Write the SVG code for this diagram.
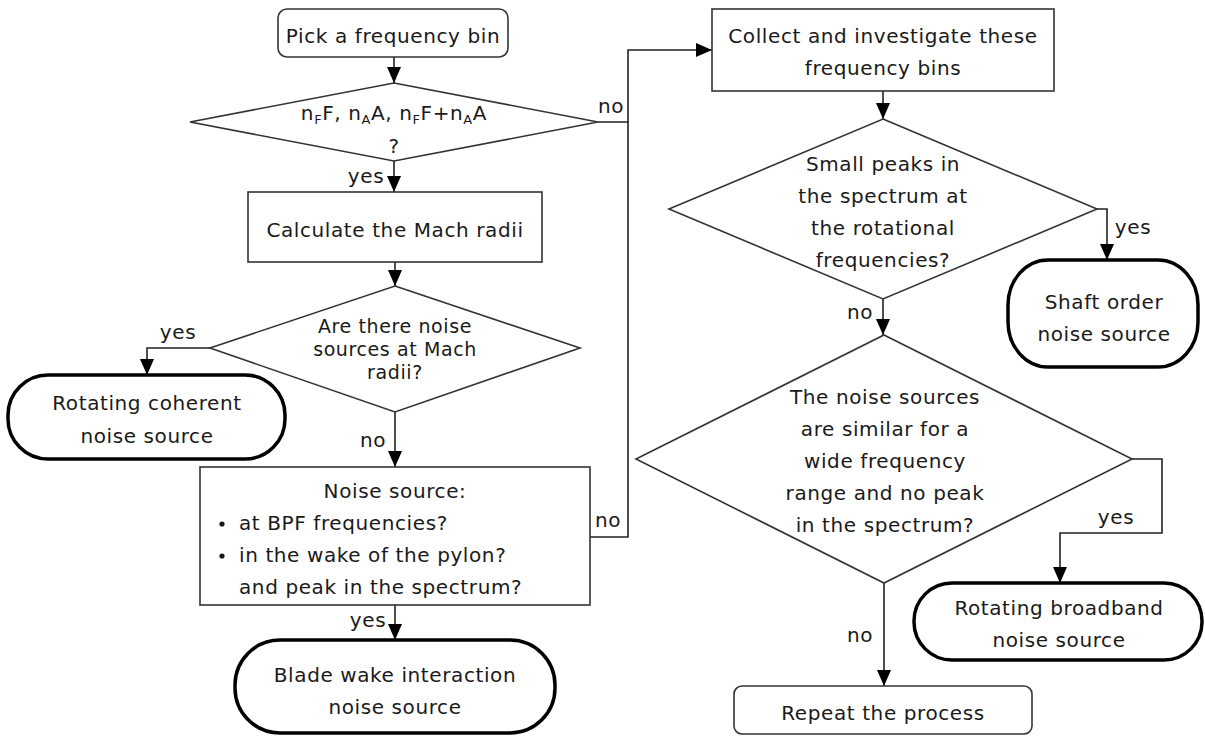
<svg xmlns="http://www.w3.org/2000/svg" width="1205" height="736" viewBox="0 0 1205 736">
<style>
text{font-family:"DejaVu Sans","Liberation Sans",sans-serif;font-size:20px;letter-spacing:0.6px;fill:#1a1a1a;text-anchor:middle}
.box{fill:#fff;stroke:#333;stroke-width:1.6}
.term{fill:#fff;stroke:#000;stroke-width:3.5}
.conn{fill:none;stroke:#222;stroke-width:1.6}
.arr{marker-end:url(#ah)}
.sub{font-size:13px}
.left{text-anchor:start}
.tight{font-size:19px}
</style>
<defs>
<marker id="ah" viewBox="0 0 16 14" refX="16" refY="7" markerWidth="16" markerHeight="14" markerUnits="userSpaceOnUse" orient="auto">
<path d="M0,0 L16,7 L0,14 z" fill="#000"/>
</marker>
</defs>
<rect width="1205" height="736" fill="#fff"/>

<g id="connectors">
<path class="conn arr" d="M394,57 V83"/>
<path class="conn arr" d="M394,161 V192"/>
<path class="conn arr" d="M598,122 H628 V50 H712"/>
<path class="conn arr" d="M395,262 V286"/>
<path class="conn arr" d="M210,348 H147 V375"/>
<path class="conn arr" d="M395,412 V467"/>
<path class="conn" d="M590,537 H628 V122"/>
<path class="conn arr" d="M395,605 V640"/>
<path class="conn arr" d="M883,91 V119"/>
<path class="conn arr" d="M1097,209 H1107 V260"/>
<path class="conn arr" d="M883,299 V335"/>
<path class="conn arr" d="M1132,459 H1162 V533 H1060 V583"/>
<path class="conn arr" d="M884,583 V686"/>
<text x="611" y="113">no</text>
<text x="366" y="183">yes</text>
<text x="178" y="339">yes</text>
<text x="373" y="447">no</text>
<text x="608" y="527">no</text>
<text x="368" y="627">yes</text>
<text x="860" y="319">no</text>
<text x="1133" y="234">yes</text>
<text x="1116" y="524">yes</text>
<text x="860" y="642">no</text>
</g>

<g id="pick">
<rect class="box" x="278" y="9" width="230" height="48" rx="9"/>
<text x="393" y="43">Pick a frequency bin</text>
</g>

<g id="d1">
<polygon class="box" points="394,83 598,122 394,161 190,122"/>
<text x="394" y="120">n<tspan class="sub" dy="4">F</tspan><tspan dy="-4">F, n</tspan><tspan class="sub" dy="4">A</tspan><tspan dy="-4">A, n</tspan><tspan class="sub" dy="4">F</tspan><tspan dy="-4">F+n</tspan><tspan class="sub" dy="4">A</tspan><tspan dy="-4">A</tspan></text>
<text x="394" y="153">?</text>
</g>

<g id="calc">
<rect class="box" x="248" y="192" width="294" height="70"/>
<text x="395" y="237">Calculate the Mach radii</text>
</g>

<g id="d2">
<polygon class="box" points="395,286 580,348 395,412 210,348"/>
<text class="tight" x="395" y="333">Are there noise</text>
<text class="tight" x="395" y="356">sources at Mach</text>
<text class="tight" x="395" y="379">radii?</text>
</g>

<g id="coherent">
<rect class="term" x="8" y="375" width="277" height="84" rx="40" ry="40"/>
<text x="147" y="410">Rotating coherent</text>
<text x="147" y="443">noise source</text>
</g>

<g id="noisebox">
<rect class="box" x="200" y="467" width="390" height="138"/>
<text x="395" y="498">Noise source:</text>
<circle cx="222" cy="524" r="2.6" fill="#1a1a1a"/>
<text class="left" x="239" y="530">at BPF frequencies?</text>
<circle cx="222" cy="556" r="2.6" fill="#1a1a1a"/>
<text class="left" x="239" y="562">in the wake of the pylon?</text>
<text class="left" x="239" y="594">and peak in the spectrum?</text>
</g>

<g id="blade">
<rect class="term" x="235" y="640" width="320" height="93" rx="45" ry="45"/>
<text x="395" y="682">Blade wake interaction</text>
<text x="395" y="714">noise source</text>
</g>

<g id="collect">
<rect class="box" x="712" y="9" width="342" height="82"/>
<text x="883" y="43">Collect and investigate these</text>
<text x="883" y="75">frequency bins</text>
</g>

<g id="d3">
<polygon class="box" points="883,119 1097,209 883,299 669,209"/>
<text x="883" y="171">Small peaks in</text>
<text x="883" y="203">the spectrum at</text>
<text x="883" y="235">the rotational</text>
<text x="883" y="267">frequencies?</text>
</g>

<g id="shaft">
<rect class="term" x="1008" y="260" width="190" height="107" rx="40" ry="45"/>
<text x="1104" y="309">Shaft order</text>
<text x="1104" y="341">noise source</text>
</g>

<g id="d4">
<polygon class="box" points="884,335 1132,459 884,583 636,459"/>
<text x="885" y="404">The noise sources</text>
<text x="885" y="436">are similar for a</text>
<text x="885" y="468">wide frequency</text>
<text x="885" y="500">range and no peak</text>
<text x="885" y="532">in the spectrum?</text>
</g>

<g id="broadband">
<rect class="term" x="914" y="583" width="288" height="77" rx="38" ry="38"/>
<text x="1059" y="615">Rotating broadband</text>
<text x="1059" y="647">noise source</text>
</g>

<g id="repeat">
<rect class="box" x="734" y="686" width="298" height="48" rx="8"/>
<text x="883" y="720">Repeat the process</text>
</g>
</svg>
